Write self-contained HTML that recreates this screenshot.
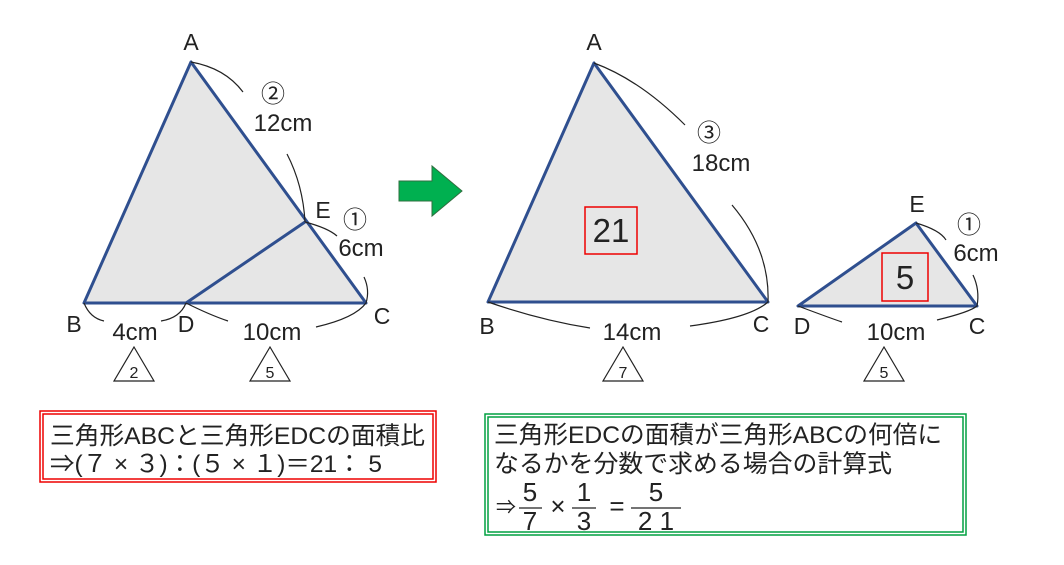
<!DOCTYPE html>
<html><head><meta charset="utf-8"><style>
body{margin:0;background:#fff}
svg{display:block}
text{font-family:"Liberation Sans","Noto Sans CJK JP",sans-serif;fill:#222}
</style></head><body>
<svg width="1064" height="565" viewBox="0 0 1064 565" xmlns="http://www.w3.org/2000/svg">
<g stroke="#2f4f8f" stroke-width="3" fill="#e6e6e6" stroke-linejoin="round">
<polygon points="191,62 84,303 366,303"/>
<line x1="305" y1="222" x2="186" y2="303"/>
<polygon points="594,63 488,302 768,302"/>
<polygon points="916,223 798,306 977,306"/>
</g>
<g fill="none" stroke="#222" stroke-width="1.2">
<path d="M191,62 Q225,68 243,92"/>
<path d="M287,154 Q303,185 305,222"/>
<path d="M305,222 Q328,228 337,236"/>
<path d="M364,277 Q370,290 366,303"/>
<path d="M84,303 Q90,318 104,321"/>
<path d="M161,321 Q180,318 186,303"/>
<path d="M186,303 Q210,315 228,321"/>
<path d="M316,327 Q355,318 366,303"/>
<path d="M594,63 Q640,80 685,125"/>
<path d="M732,205 Q770,250 768,302"/>
<path d="M488,302 Q540,320 590,328"/>
<path d="M690,326 Q750,318 768,302"/>
<path d="M916,223 Q940,230 946,240"/>
<path d="M973,275 Q980,290 977,306"/>
<path d="M798,306 Q830,318 842,322"/>
<path d="M937,320 Q970,312 977,306"/>
</g>
<g font-size="23">
<text x="191" y="50" text-anchor="middle">A</text>
<text x="74" y="332" text-anchor="middle">B</text>
<text x="382" y="324" text-anchor="middle">C</text>
<text x="186" y="332" text-anchor="middle">D</text>
<text x="323" y="218" text-anchor="middle">E</text>
<text x="594" y="50" text-anchor="middle">A</text>
<text x="487" y="334" text-anchor="middle">B</text>
<text x="761" y="332" text-anchor="middle">C</text>
<text x="802" y="334" text-anchor="middle">D</text>
<text x="917" y="212" text-anchor="middle">E</text>
<text x="977" y="334" text-anchor="middle">C</text>
</g>
<g font-size="24" text-anchor="middle">
<text x="273" y="102">②</text>
<text x="283" y="131">12cm</text>
<text x="355" y="228">①</text>
<text x="361" y="256">6cm</text>
<text x="135" y="340">4cm</text>
<text x="272" y="340">10cm</text>
<text x="709" y="141">③</text>
<text x="721" y="171">18cm</text>
<text x="632" y="340">14cm</text>
<text x="969" y="233">①</text>
<text x="976" y="261">6cm</text>
<text x="896" y="340">10cm</text>
</g>
<g fill="#fff" stroke="#222" stroke-width="1.2">
<polygon points="134,347 114,381 154,381"/>
<polygon points="270,347 250,381 290,381"/>
<polygon points="623,347 603,381 643,381"/>
<polygon points="884,347 864,381 904,381"/>
</g>
<g font-size="16" text-anchor="middle">
<text x="134" y="378">2</text><text x="270" y="378">5</text>
<text x="623" y="378">7</text><text x="884" y="378">5</text>
</g>
<rect x="585" y="207" width="52" height="47" fill="none" stroke="#e00" stroke-width="1.5"/>
<text x="611" y="242" font-size="33" text-anchor="middle">21</text>
<rect x="882" y="253" width="46" height="48" fill="none" stroke="#e00" stroke-width="1.5"/>
<text x="905" y="289" font-size="33" text-anchor="middle">5</text>
<polygon points="399,181 432,181 432,166 462,191 432,216 432,201 399,201" fill="#00b050" stroke="#2f6f3f" stroke-width="1"/>
<rect x="40" y="411" width="396" height="71" fill="#fff" stroke="#e00" stroke-width="1.5"/>
<rect x="43" y="414" width="390" height="65" fill="none" stroke="#e00" stroke-width="1.5"/>
<text x="50" y="444" font-size="24.5" textLength="375" lengthAdjust="spacingAndGlyphs">三角形ABCと三角形EDCの面積比</text>
<text x="50" y="472" font-size="24.5" textLength="332" lengthAdjust="spacingAndGlyphs">⇒(７ × ３)：(５ × １)＝21： 5</text>
<rect x="485" y="414" width="481" height="121" fill="#fff" stroke="#00a040" stroke-width="1.5"/>
<rect x="488" y="417" width="475" height="115" fill="none" stroke="#00a040" stroke-width="1.5"/>
<text x="494" y="443" font-size="24.5" textLength="448" lengthAdjust="spacingAndGlyphs">三角形EDCの面積が三角形ABCの何倍に</text>
<text x="494" y="472" font-size="24.5" textLength="398" lengthAdjust="spacingAndGlyphs">なるかを分数で求める場合の計算式</text>
<text x="496" y="514" font-size="20">⇒</text>
<g font-size="26" text-anchor="middle">
<text x="530" y="501">5</text><text x="530" y="530">7</text>
<text x="558" y="515">×</text>
<text x="584" y="501">1</text><text x="584" y="530">3</text>
<text x="617" y="515">=</text>
<text x="656" y="501">5</text><text x="656" y="530">2 1</text>
</g>
<g stroke="#222" stroke-width="1.3">
<line x1="519" y1="508" x2="542" y2="508"/>
<line x1="572" y1="508" x2="596" y2="508"/>
<line x1="631" y1="508" x2="681" y2="508"/>
</g>
</svg>
</body></html>
